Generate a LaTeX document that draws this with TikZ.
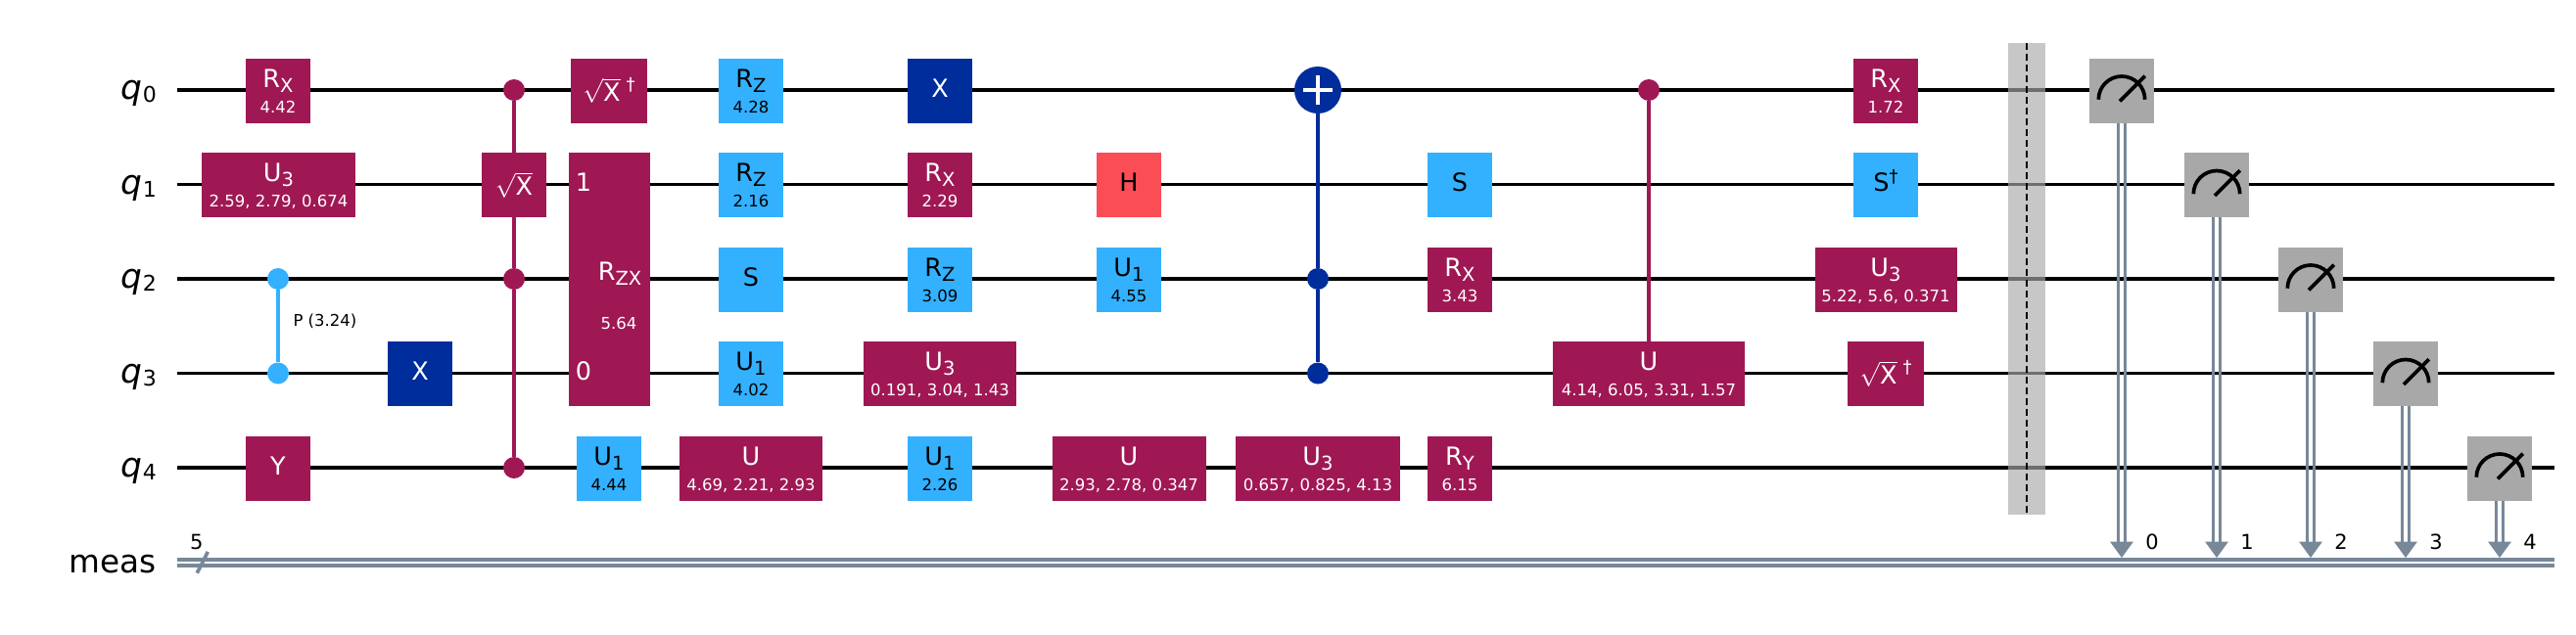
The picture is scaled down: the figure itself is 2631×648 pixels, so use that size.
\documentclass[tikz,border=0pt]{standalone}
\usepackage{fontspec}
\setmainfont{DejaVu Sans}
\usetikzlibrary{calc}

\definecolor{gatepurple}{HTML}{9F1853}
\definecolor{gateblue}{HTML}{33B1FF}
\definecolor{gatenavy}{HTML}{002D9C}
\definecolor{gatered}{HTML}{FA4D56}
\definecolor{gategrey}{HTML}{A8A8A8}
\definecolor{clgrey}{HTML}{778899}
\definecolor{barrgrey}{HTML}{A9A9A9}

\newcommand{\gsub}[1]{\raisebox{-5pt}{\fontsize{19.5}{19.5}\selectfont #1}}
\newcommand{\gpar}[2]{\makebox[0pt]{\raisebox{10.4pt}{#1}}\makebox[0pt]{\raisebox{-16pt}{\fontsize{16.5}{16.5}\selectfont #2}}}
\newcommand{\gdag}[1]{\raisebox{#1}{\fontsize{18}{18}\selectfont †}}
\newcommand{\gsqrt}{\raisebox{-4pt}{$\sqrt{\mbox{X}}$}}
\newcommand{\qlab}[1]{{\fontsize{34.5}{34.5}\selectfont\itshape q}\raisebox{-3pt}{\fontsize{22}{22}\selectfont #1}}

\tikzset{
  gate/.style={rectangle,inner sep=0,minimum width=66,minimum height=66,yshift=-0.7,
    text height=23.7,text depth=10.3,font=\fontsize{25.5}{25.5}\selectfont},
  pgate/.style={gate,fill=gatepurple,text=white},
  bgate/.style={gate,fill=gateblue,text=black},
  ngate/.style={gate,fill=gatenavy,text=white},
  rgate/.style={gate,fill=gatered,text=black},
  mgate/.style={gate,fill=gategrey},
  wire/.style={line width=3.7,black},
  cwire/.style={line width=3.7,clgrey},
  ctrl/.style={circle,inner sep=0,minimum size=22},
  reglab/.style={anchor=base east,font=\fontsize{32.7}{32.7}\selectfont},
  smalllab/.style={anchor=base,font=\fontsize{21}{21}\selectfont},
  dial/.style={line width=3.7,black}
}

\begin{document}
\begin{tikzpicture}[x=1pt,y=-1pt]
\useasboundingbox (0,0) rectangle (2631,648);
% registers
\node[reglab] (q0) at (163.3,101.5) {\qlab{0}};
\node[reglab] (q1) at (163.3,198) {\qlab{1}};
\node[reglab] (q2) at (163.3,294.5) {\qlab{2}};
\node[reglab] (q3) at (163.3,391) {\qlab{3}};
\node[reglab] (q4) at (163.3,487.5) {\qlab{4}};
\node[reglab] (meas) at (163,585) {meas};
\coordinate (w0a) at (181,92);
\coordinate (w0b) at (2609,92);
\coordinate (w1a) at (181,188.5);
\coordinate (w1b) at (2609,188.5);
\coordinate (w2a) at (181,285);
\coordinate (w2b) at (2609,285);
\coordinate (w3a) at (181,381.5);
\coordinate (w3b) at (2609,381.5);
\coordinate (w4a) at (181,478);
\coordinate (w4b) at (2609,478);
\coordinate (c0a) at (181,572);
\coordinate (c0b) at (2609,572);
\coordinate (c1a) at (181,577.8);
\coordinate (c1b) at (2609,577.8);
\draw[wire] (w0a) -- (w0b);
\draw[wire] (w1a) -- (w1b);
\draw[wire] (w2a) -- (w2b);
\draw[wire] (w3a) -- (w3b);
\draw[wire] (w4a) -- (w4b);
\draw[cwire] (c0a) -- (c0b);
\draw[cwire] (c1a) -- (c1b);
\coordinate (sl0) at (201.3,585.7);
\coordinate (sl1) at (212.3,564);
\draw[cwire] (sl0) -- (sl1);
\node[smalllab] (nbits) at (200.8,561) {5};
% first columns
\node[pgate] (rx0) at (284,92) {\gpar{R\gsub{X}}{4.42}};
\node[pgate,minimum width=157] (u31) at (284.5,188.5) {\gpar{U\gsub{3}}{2.59, 2.79, 0.674}};
\node[pgate] (y4) at (284,478) {Y};
\node[ctrl,fill=gateblue] (p2) at (284,285) {};
\node[ctrl,fill=gateblue] (p3) at (284,381.5) {};
\draw[line width=4,gateblue] (p2) -- (p3);
\node[anchor=base west,font=\fontsize{16.5}{16.5}\selectfont] (plab) at (296,333) {P (3.24)};
\node[ngate] (x3) at (429,381.5) {X};
\node[ctrl,fill=gatepurple] (sc0) at (525,92) {};
\node[pgate] (sx1) at (525,188.5) {\gsqrt};
\node[ctrl,fill=gatepurple] (sc2) at (525,285) {};
\node[ctrl,fill=gatepurple] (sc4) at (525,478) {};
\draw[line width=4,gatepurple] (sc0) -- (sx1);
\draw[line width=4,gatepurple] (sx1) -- (sc2);
\draw[line width=4,gatepurple] (sc2) -- (sc4);
\node[pgate,minimum width=78] (sd0) at (622,92) {\gsqrt\hspace{6pt}\gdag{7pt}};
\node[pgate,minimum width=83,minimum height=258.6] (rzx) at (622.5,285) {};
\node[anchor=base,text=white,font=\fontsize{25.5}{25.5}\selectfont] (rzx1) at (596,195) {1};
\node[anchor=base,text=white,font=\fontsize{25.5}{25.5}\selectfont] (rzx0) at (596,388) {0};
\node[anchor=base,text=white,font=\fontsize{25.5}{25.5}\selectfont] (rzxn) at (633,286.7) {R\gsub{ZX}};
\node[anchor=base,text=white,font=\fontsize{16.5}{16.5}\selectfont] (rzxp) at (632,336) {5.64};
\node[bgate] (u14) at (622,478) {\gpar{U\gsub{1}}{4.44}};
% rz column
\node[bgate] (rz0) at (767,92) {\gpar{R\gsub{Z}}{4.28}};
\node[bgate] (rz1) at (767,188.5) {\gpar{R\gsub{Z}}{2.16}};
\node[bgate] (s2) at (767,285) {S};
\node[bgate] (u13) at (767,381.5) {\gpar{U\gsub{1}}{4.02}};
\node[pgate,minimum width=146] (ua4) at (767,478) {\gpar{U}{4.69, 2.21, 2.93}};
\node[ngate] (x0) at (960,92) {X};
\node[pgate] (rx1) at (960,188.5) {\gpar{R\gsub{X}}{2.29}};
\node[bgate] (rz2) at (960,285) {\gpar{R\gsub{Z}}{3.09}};
\node[pgate,minimum width=156] (u33) at (960,381.5) {\gpar{U\gsub{3}}{0.191, 3.04, 1.43}};
\node[bgate] (u1b) at (960,478) {\gpar{U\gsub{1}}{2.26}};
\node[rgate] (h1) at (1153,188.5) {H};
\node[bgate] (u12) at (1153,285) {\gpar{U\gsub{1}}{4.55}};
\node[pgate,minimum width=157] (ub4) at (1153,478) {\gpar{U}{2.93, 2.78, 0.347}};
% toffoli
\node[circle,inner sep=0,minimum size=48,fill=gatenavy] (xt) at (1346,92) {};
\coordinate (xtl) at (1331,92);
\coordinate (xtr) at (1361,92);
\coordinate (xtu) at (1346,77);
\coordinate (xtd) at (1346,107);
\draw[line width=3.7,white] (xtl) -- (xtr);
\draw[line width=3.7,white] (xtu) -- (xtd);
\node[ctrl,fill=gatenavy] (tc2) at (1346,285) {};
\node[ctrl,fill=gatenavy] (tc3) at (1346,381.5) {};
\draw[line width=4,gatenavy] (xt) -- (tc2);
\draw[line width=4,gatenavy] (tc2) -- (tc3);
\node[pgate,minimum width=168] (u34) at (1346,478) {\gpar{U\gsub{3}}{0.657, 0.825, 4.13}};
\node[bgate] (s1) at (1491,188.5) {S};
\node[pgate] (rx2) at (1491,285) {\gpar{R\gsub{X}}{3.43}};
\node[pgate] (ry4) at (1491,478) {\gpar{R\gsub{Y}}{6.15}};
\node[ctrl,fill=gatepurple] (cu0) at (1684,92) {};
\node[pgate,minimum width=196] (cu3) at (1684,381.5) {\gpar{U}{4.14, 6.05, 3.31, 1.57}};
\draw[line width=4,gatepurple] (cu0) -- (cu3);
\node[pgate] (rx3) at (1926,92) {\gpar{R\gsub{X}}{1.72}};
\node[bgate] (sd1) at (1926,188.5) {S\gdag{9pt}};
\node[pgate,minimum width=145] (u32) at (1926,285) {\gpar{U\gsub{3}}{5.22, 5.6, 0.371}};
\node[pgate,minimum width=78] (sd3) at (1926,381.5) {\gsqrt\hspace{6pt}\gdag{7pt}};
% barrier
\node[rectangle,inner sep=0,minimum width=38,minimum height=482,fill=barrgrey,fill opacity=0.65] (barr) at (2070,285) {};
\draw[line width=2,black,dash pattern=on 7.5 off 3.5] (barr.north) -- (barr.south);
% measures
\node[mgate] (m0) at (2167,92) {};
\node[mgate] (m1) at (2264,188.5) {};
\node[mgate] (m2) at (2360,285) {};
\node[mgate] (m3) at (2457,381.5) {};
\node[mgate] (m4) at (2553,478) {};
\draw[dial] ([xshift=-23.7,yshift=-9]m0.center) arc (180:360:23.7);
\draw[dial] ([xshift=-2,yshift=-10.7]m0.center) -- ([xshift=23.7,yshift=15]m0.center);
\draw[dial] ([xshift=-23.7,yshift=-9]m1.center) arc (180:360:23.7);
\draw[dial] ([xshift=-2,yshift=-10.7]m1.center) -- ([xshift=23.7,yshift=15]m1.center);
\draw[dial] ([xshift=-23.7,yshift=-9]m2.center) arc (180:360:23.7);
\draw[dial] ([xshift=-2,yshift=-10.7]m2.center) -- ([xshift=23.7,yshift=15]m2.center);
\draw[dial] ([xshift=-23.7,yshift=-9]m3.center) arc (180:360:23.7);
\draw[dial] ([xshift=-2,yshift=-10.7]m3.center) -- ([xshift=23.7,yshift=15]m3.center);
\draw[dial] ([xshift=-23.7,yshift=-9]m4.center) arc (180:360:23.7);
\draw[dial] ([xshift=-2,yshift=-10.7]m4.center) -- ([xshift=23.7,yshift=15]m4.center);
\coordinate (t0) at (2167,570);
\coordinate (t1) at (2264,570);
\coordinate (t2) at (2360,570);
\coordinate (t3) at (2457,570);
\coordinate (t4) at (2553,570);
\draw[cwire] ([xshift=-3.6]m0.south) -- ([xshift=-3.6,yshift=14]t0);
\draw[cwire] ([xshift=3.6]m0.south) -- ([xshift=3.6,yshift=14]t0);
\draw[cwire] ([xshift=-3.6]m1.south) -- ([xshift=-3.6,yshift=14]t1);
\draw[cwire] ([xshift=3.6]m1.south) -- ([xshift=3.6,yshift=14]t1);
\draw[cwire] ([xshift=-3.6]m2.south) -- ([xshift=-3.6,yshift=14]t2);
\draw[cwire] ([xshift=3.6]m2.south) -- ([xshift=3.6,yshift=14]t2);
\draw[cwire] ([xshift=-3.6]m3.south) -- ([xshift=-3.6,yshift=14]t3);
\draw[cwire] ([xshift=3.6]m3.south) -- ([xshift=3.6,yshift=14]t3);
\draw[cwire] ([xshift=-3.6]m4.south) -- ([xshift=-3.6,yshift=14]t4);
\draw[cwire] ([xshift=3.6]m4.south) -- ([xshift=3.6,yshift=14]t4);
\fill[clgrey] (t0) -- ++(-12,-16.5) -- ++(24,0) -- cycle;
\fill[clgrey] (t1) -- ++(-12,-16.5) -- ++(24,0) -- cycle;
\fill[clgrey] (t2) -- ++(-12,-16.5) -- ++(24,0) -- cycle;
\fill[clgrey] (t3) -- ++(-12,-16.5) -- ++(24,0) -- cycle;
\fill[clgrey] (t4) -- ++(-12,-16.5) -- ++(24,0) -- cycle;
\node[smalllab] (b0) at (2198,561) {0};
\node[smalllab] (b1) at (2295,561) {1};
\node[smalllab] (b2) at (2391,561) {2};
\node[smalllab] (b3) at (2488,561) {3};
\node[smalllab] (b4) at (2584,561) {4};
\end{tikzpicture}
\end{document}
